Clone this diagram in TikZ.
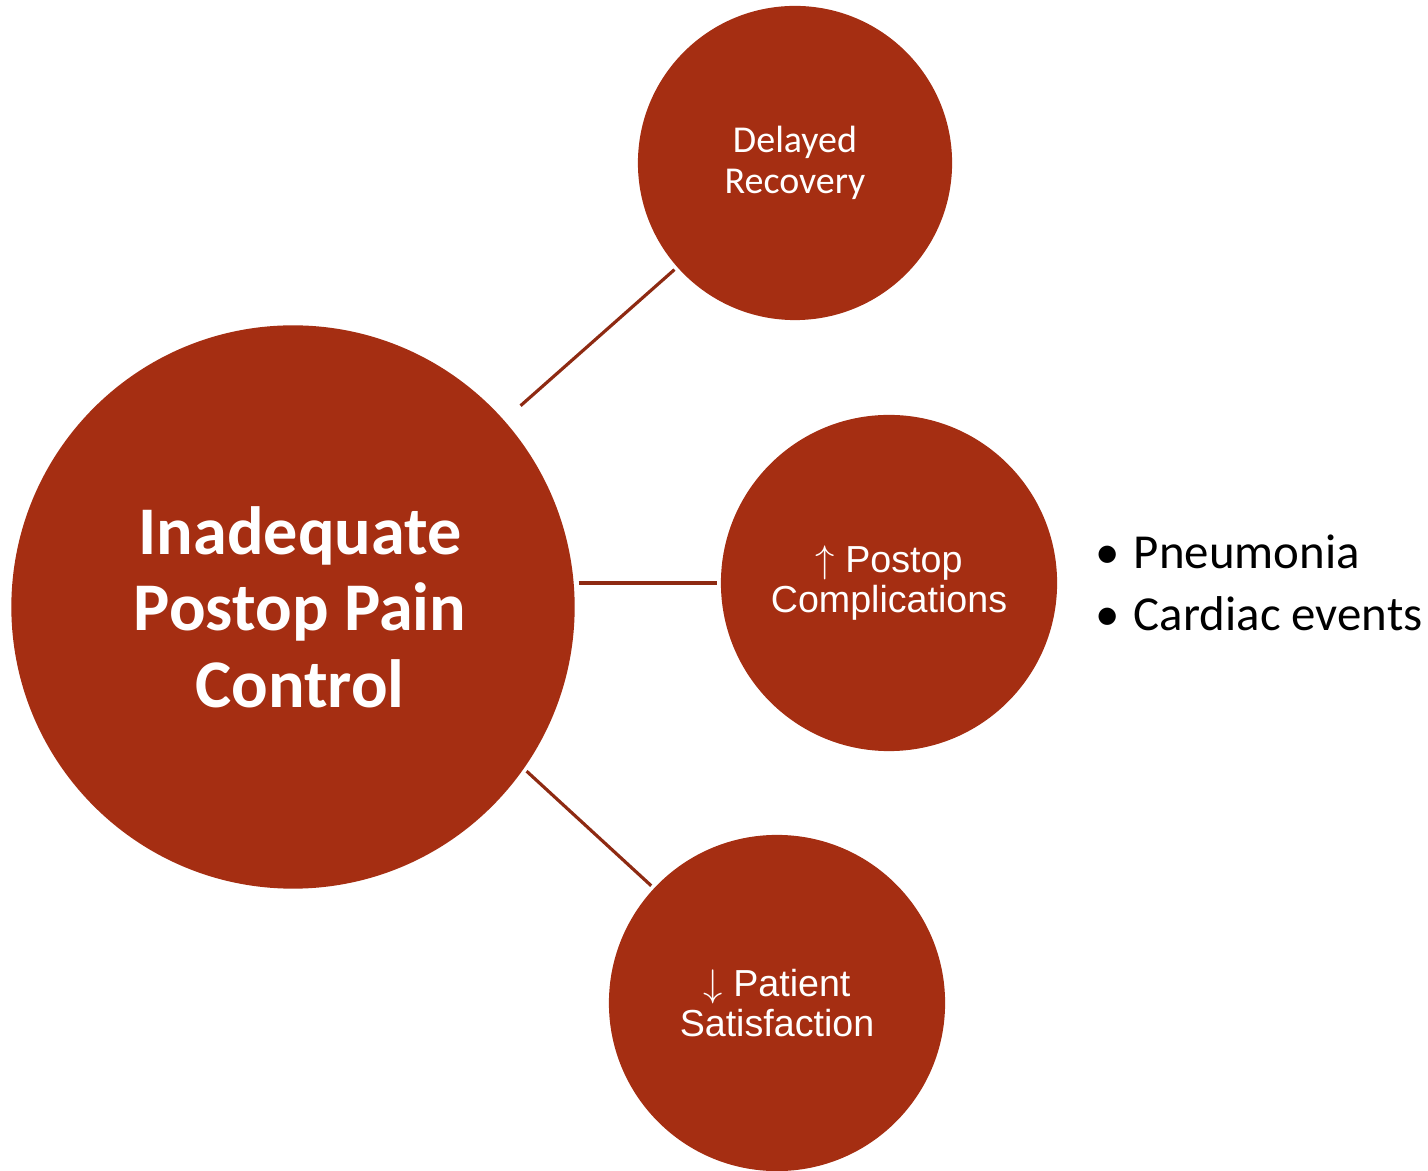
\documentclass[tikz,border=0pt]{standalone}
\usepackage{fontspec}
\setmainfont{Carlito}
\newfontfamily\arialfont{Liberation Sans}
\usepackage{tikz}
\usetikzlibrary{positioning}
\definecolor{rust}{HTML}{A52E12}
\definecolor{rustline}{HTML}{8E2A12}

\begin{document}
\begin{tikzpicture}[x=0.01cm,y=-0.01cm,
	bubble/.style={circle,fill=rust,draw=none,text=white,align=center,inner sep=0pt,outer sep=0pt},
	link/.style={color=rustline,line width=0.9pt}]
			\useasboundingbox (0,0) rectangle (1428,1171);
			\node[bubble,minimum size=5.63cm,label={[text=white,align=center,xshift=0.07cm,font=\bfseries\fontsize{19.4}{21.8}\selectfont]center:Inadequate\\Postop Pain\\Control}] (cause) at (293,607) {};
			\node[bubble,minimum size=3.14cm,font=\fontsize{10.8}{11.6}\selectfont] (recovery) at (795,163) {Delayed\\Recovery};
			\node[bubble,minimum size=3.36cm,font=\arialfont\fontsize{10.7}{11.2}\selectfont] (complications) at (889,583) {$\uparrow$ Postop\\Complications};
			\node[bubble,minimum size=3.36cm,font=\arialfont\fontsize{10.7}{11.2}\selectfont] (satisfaction) at (777,1003) {$\downarrow$ Patient\\Satisfaction};
			\node[right=0.38cm of complications,anchor=west,align=left,inner sep=0pt,font=\fontsize{13.9}{17.6}\selectfont] (risks) {\textbullet\hspace{0.28em}Pneumonia\\\textbullet\hspace{0.28em}Cardiac events};
			% connectors
			\draw[link,shorten <=6.3pt,shorten >=1.1pt] (cause) -- (recovery);
			\draw[link,shorten <=1.1pt,shorten >=1.1pt] (cause.east |- complications.west) -- (complications.west);
			\draw[link,shorten <=1.1pt,shorten >=1.1pt] (cause.-35) -- (satisfaction.137);
		\end{tikzpicture}
\end{document}
